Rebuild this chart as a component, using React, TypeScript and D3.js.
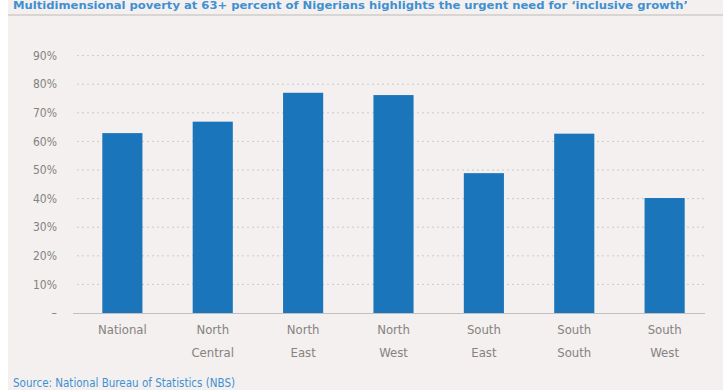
import React from "react";
import * as d3 from "d3";

const categories = ["National", "North Central", "North East", "North West", "South East", "South South", "South West"];
const values = [62.9, 66.9, 77.0, 76.2, 48.9, 62.7, 40.2];
const yTicks = [0, 10, 20, 30, 40, 50, 60, 70, 80, 90];
const titleText = "Multidimensional poverty at 63+ percent of Nigerians highlights the urgent need for \u2018inclusive growth\u2019";
const sourceText = "Source: National Bureau of Statistics (NBS)";

export default function App() {
  const W = 723, H = 390;
  const x = d3.scaleBand<string>().domain(categories).range([77, 710]).paddingInner(0.556).paddingOuter(0.28);
  const y = d3.scaleLinear().domain([0, 100]).range([313, 27]);
  const font = "'Liberation Sans Narrow', 'DejaVu Sans Condensed', Roboto, sans-serif";
  return (
    <div style={{ position: "fixed", left: 0, top: 0, width: W, height: H, background: "#fff" }}>
      <svg width={W} height={H} style={{ display: "block" }}>
        <rect x={8} y={0} width={W - 8} height={H} fill="#f3f0ef" />
        <text x={13} y={9} fontFamily={font} fontSize={10} fontWeight={700} fill="#3f90d2" textLength={675} lengthAdjust="spacingAndGlyphs">{titleText}</text>
        <rect x={8} y={14} width={W - 8} height={2} fill="#d9d5d3" />
        {yTicks.filter(t => t > 0).map(t => (
          <line key={t} x1={77} x2={704} y1={y(t)} y2={y(t)} stroke="#cdcac9" strokeWidth={1} strokeDasharray="2,3" />
        ))}
        {yTicks.map(t => (
          <text key={"l" + t} x={57} y={y(t)} dy="0.35em" textAnchor="end" fontFamily={font} fontSize={12} fill="#858281">
            {t === 0 ? "–" : `${t}%`}
          </text>
        ))}
        {categories.map((c, i) => (
          <rect key={c} x={x(c)} y={y(values[i])} width={x.bandwidth()} height={y(0) - y(values[i])} fill="#1b75bb" />
        ))}
        <line x1={73} x2={705} y1={y(0) + 0.5} y2={y(0) + 0.5} stroke="#c2bfbe" strokeWidth={1} />
        {categories.map(c => {
          const parts = c.split(" ");
          const cx = (x(c) as number) + x.bandwidth() / 2;
          return parts.map((p, j) => (
            <text key={c + j} x={cx} y={334 + j * 23} textAnchor="middle" fontFamily={font} fontSize={13} fill="#858281">{p}</text>
          ));
        })}
        <text x={13} y={387} fontFamily={font} fontSize={11.5} fill="#3f90d2">{sourceText}</text>
      </svg>
    </div>
  );
}
